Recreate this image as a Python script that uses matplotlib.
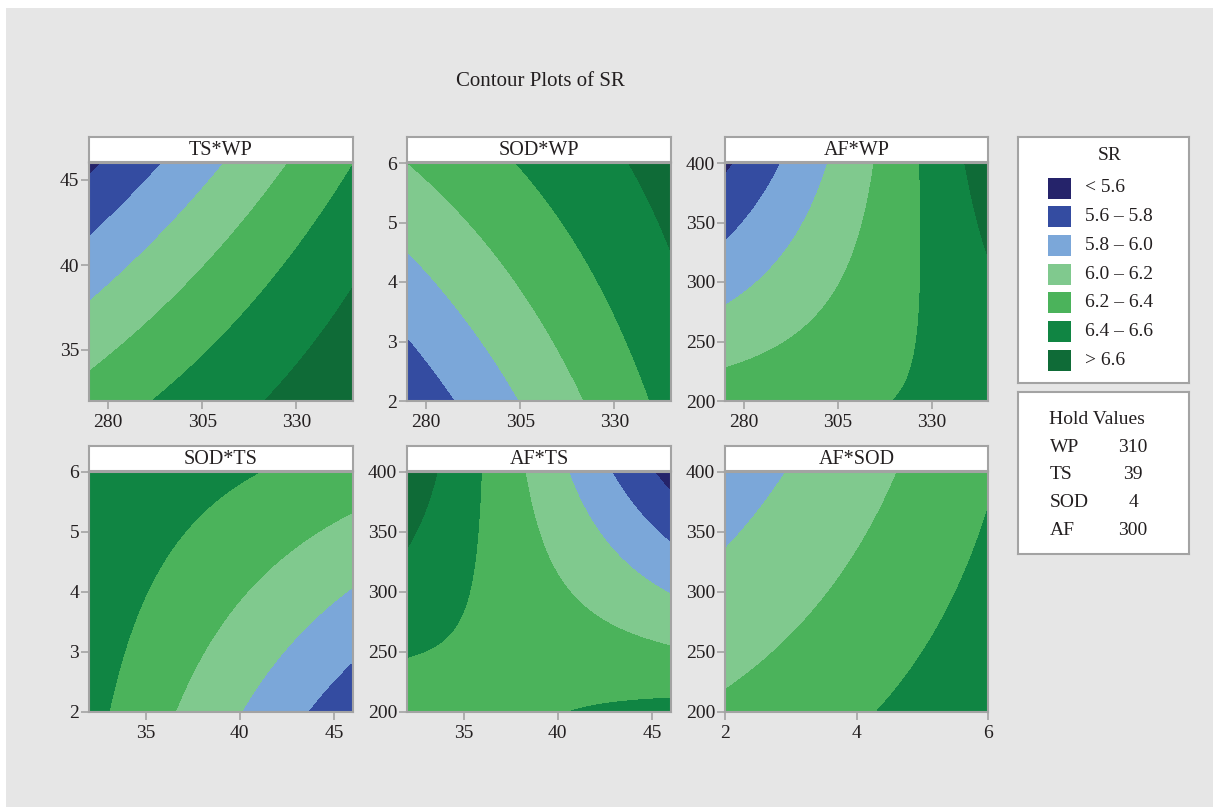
import numpy as np
import matplotlib.pyplot as plt
from matplotlib.patches import Rectangle

plt.rcParams['font.family'] = ['Liberation Serif', 'DejaVu Serif']

W, H = 1213, 807

# contour levels and band colours (Minitab style)
levels = [5.6, 5.8, 6.0, 6.2, 6.4, 6.6]
band_colors = ['#25236a', '#344ca1', '#7ba7d9', '#80c98e', '#4bb35b', '#108543', '#0f6b37']
band_labels = ['< 5.6', '5.6 – 5.8', '5.8 – 6.0', '6.0 – 6.2', '6.2 – 6.4', '6.4 – 6.6', '> 6.6']

# factor ranges
wp_range = (275, 345)
ts_range = (32, 46)
sod_range = (2, 6)
af_range = (200, 400)

hold_names = ['WP', 'TS', 'SOD', 'AF']
hold_values = ['310', '39', '4', '300']

# points: (x, y, SR)
ts_wp = [(277.8, 46, 5.6), (275, 45.4, 5.6),
         (294.2, 46, 5.8), (275, 41.6, 5.8), (285, 43.7, 5.8),
         (311.4, 46, 6.0), (305, 44, 6.0), (275, 37.7, 6.0), (290.2, 40.9, 6.0),
         (327.8, 46, 6.2), (275, 33.8, 6.2), (307.9, 40.5, 6.2),
         (344.3, 46, 6.4), (345, 45.8, 6.4), (292, 32, 6.4), (318.5, 38.9, 6.4),
         (321.6, 32, 6.6), (345, 38.2, 6.6), (334.4, 35.2, 6.6)]

sod_wp = [(275, 3.09, 5.8), (287.9, 2, 5.8), (281, 2.63, 5.8),
          (275, 4.51, 6.0), (304.9, 2, 6.0), (289.9, 3.42, 6.0),
          (275.5, 6, 6.2), (322.2, 2, 6.2), (288.1, 5.16, 6.2), (310.2, 3.19, 6.2),
          (304, 6, 6.4), (339.3, 2, 6.4), (320, 4.88, 6.4), (332.4, 3.19, 6.4),
          (332.8, 6, 6.6), (345, 4.48, 6.6), (340.3, 5.16, 6.6)]

af_wp = [(277.2, 400, 5.6), (275, 387, 5.6),
         (290.1, 400, 5.8), (275, 334, 5.8), (281.6, 360.7, 5.8),
         (302, 400, 6.0), (275, 282, 6.0), (286.1, 310.1, 6.0),
         (314.4, 400, 6.2), (275, 228, 6.2), (290.5, 248.3, 6.2), (303.8, 279.2, 6.2), (310, 315.7, 6.2),
         (326.4, 400, 6.4), (326, 343.8, 6.4), (325.5, 287.6, 6.4), (324.2, 245.5, 6.4), (320.6, 200, 6.4),
         (339.2, 400, 6.6), (345, 321, 6.6), (342.3, 357.9, 6.6)]

sod_ts = [(41.1, 6, 6.4), (33.1, 2, 6.4), (35.04, 4.04, 6.4),
          (46, 5.34, 6.2), (36.6, 2, 6.2), (40.87, 4.09, 6.2),
          (46, 4.1, 6.0), (40.0, 2, 6.0), (42.46, 3.09, 6.0),
          (46, 2.86, 5.8), (43.5, 2, 5.8), (44.94, 2.43, 5.8)]

af_ts = [(33.6, 400, 6.6), (32, 337, 6.6), (32.85, 365.8, 6.6),
         (36.0, 400, 6.4), (35.42, 315.8, 6.4), (34.97, 282.5, 6.4), (34.09, 254.7, 6.4), (32, 246, 6.4),
         (40.9, 200, 6.4), (43.47, 208.9, 6.4), (46, 213, 6.4),
         (38.2, 400, 6.2), (39.4, 343.6, 6.2), (41.0, 288, 6.2), (43.47, 265.8, 6.2), (46, 256, 6.2),
         (40.6, 400, 6.0), (42.05, 357.5, 6.0), (44.1, 315, 6.0), (46, 298, 6.0),
         (42.7, 400, 5.8), (46, 340, 5.8), (44.35, 371.4, 5.8),
         (45.1, 400, 5.6), (46, 382.5, 5.6)]

af_sod = [(2.95, 400, 6.0), (2, 334, 6.0), (2.43, 365.8, 6.0),
          (4.58, 400, 6.2), (2, 221, 6.2), (3.80, 315.8, 6.2), (2.89, 254.7, 6.2),
          (4.34, 200, 6.4), (6, 363, 6.4), (5.16, 271.4, 6.4)]

panels = [
    # title, points, x range, y range, x ticks, y ticks, rect (left, top, right, bottom) px
    ('TS*WP', ts_wp, wp_range, ts_range, [280, 305, 330], [35, 40, 45], (89, 163, 353, 401)),
    ('SOD*WP', sod_wp, wp_range, sod_range, [280, 305, 330], [2, 3, 4, 5, 6], (407, 163, 671, 401)),
    ('AF*WP', af_wp, wp_range, af_range, [280, 305, 330], [200, 250, 300, 350, 400], (725, 163, 988, 401)),
    ('SOD*TS', sod_ts, ts_range, sod_range, [35, 40, 45], [2, 3, 4, 5, 6], (89, 472, 353, 712)),
    ('AF*TS', af_ts, ts_range, af_range, [35, 40, 45], [200, 250, 300, 350, 400], (407, 472, 671, 712)),
    ('AF*SOD', af_sod, sod_range, af_range, [2, 4, 6], [200, 250, 300, 350, 400], (725, 472, 988, 712)),
]

edge = '#a3a3a3'
txt = '#231f20'


def px_rect(l, t, r, b):
    return [l / W, 1 - b / H, (r - l) / W, (b - t) / H]


def quad_surface(pts, xr, yr, n=300):
    # least squares quadratic response surface in coded units
    p = np.array(pts, dtype=float)
    xc, xh = (xr[0] + xr[1]) / 2, (xr[1] - xr[0]) / 2
    yc, yh = (yr[0] + yr[1]) / 2, (yr[1] - yr[0]) / 2
    a = (p[:, 0] - xc) / xh
    b = (p[:, 1] - yc) / yh
    A = np.column_stack([np.ones_like(a), a, b, a * a, b * b, a * b])
    coef = np.linalg.lstsq(A, p[:, 2], rcond=None)[0]
    gx = np.linspace(xr[0], xr[1], n)
    gy = np.linspace(yr[0], yr[1], n)
    X, Y = np.meshgrid(gx, gy)
    ga = (X - xc) / xh
    gb = (Y - yc) / yh
    Z = coef[0] + coef[1] * ga + coef[2] * gb + coef[3] * ga ** 2 + coef[4] * gb ** 2 + coef[5] * ga * gb
    return X, Y, Z


fig = plt.figure(figsize=(W / 100, H / 100), dpi=100, facecolor='white')
fig.patches.append(Rectangle((6 / W, 0), 1, (H - 8) / H, transform=fig.transFigure,
                             facecolor='#e6e6e6', edgecolor='none', zorder=-10))

fig.text(540 / W, 1 - 82 / H, 'Contour Plots of SR', ha='center', va='center', fontsize=15, color=txt)

for title, pts, xr, yr, xt, yt, (l, t, r, b) in panels:
    ax = fig.add_axes(px_rect(l, t, r, b))
    X, Y, Z = quad_surface(pts, xr, yr)
    ax.contourf(X, Y, Z, levels=[-100] + levels + [100], colors=band_colors, antialiased=False)
    ax.set_xlim(xr)
    ax.set_ylim(yr)
    ax.set_xticks(xt)
    ax.set_yticks(yt)
    ax.tick_params(direction='out', length=5.5, width=1.2, color=edge, labelsize=14,
                   labelcolor=txt)
    ax.tick_params(axis='x', pad=4)
    ax.tick_params(axis='y', pad=1.5)
    for s in ax.spines.values():
        s.set_color(edge)
        s.set_linewidth(1.5)

    hx = fig.add_axes(px_rect(l, t - 26, r, t - 1))
    hx.set_facecolor('white')
    hx.set_xticks([])
    hx.set_yticks([])
    for s in hx.spines.values():
        s.set_color(edge)
        s.set_linewidth(1.5)
    hx.text(0.5, 0.45, title, ha='center', va='center', fontsize=14.5, color=txt, transform=hx.transAxes)

# SR legend box
lg = fig.add_axes(px_rect(1018, 137, 1189, 383))
lg.set_xlim(1018, 1189)
lg.set_ylim(383, 137)
lg.set_facecolor('white')
lg.set_xticks([])
lg.set_yticks([])
for s in lg.spines.values():
    s.set_color(edge)
    s.set_linewidth(1.5)
lg.text(1110, 156, 'SR', ha='center', va='center', fontsize=14, color=txt)
for i, (c, lab) in enumerate(zip(band_colors, band_labels)):
    yc = 188 + i * 28.7
    lg.add_patch(Rectangle((1048, yc - 10.5), 23, 21, facecolor=c, edgecolor='none'))
    lg.text(1085, yc, lab, ha='left', va='center', fontsize=14, color=txt)

# hold values box
hv = fig.add_axes(px_rect(1018, 392, 1189, 554))
hv.set_xlim(1018, 1189)
hv.set_ylim(554, 392)
hv.set_facecolor('white')
hv.set_xticks([])
hv.set_yticks([])
for s in hv.spines.values():
    s.set_color(edge)
    s.set_linewidth(1.5)
hv.text(1097, 419, 'Hold Values', ha='center', va='center', fontsize=14, color=txt)
for i, (nm, v) in enumerate(zip(hold_names, hold_values)):
    yc = 447 + i * 27.7
    hv.text(1050, yc, nm, ha='left', va='center', fontsize=14, color=txt)
    hv.text(1133, yc, v, ha='center', va='center', fontsize=14, color=txt)

fig.savefig('out.png', dpi=100, facecolor=fig.get_facecolor())
